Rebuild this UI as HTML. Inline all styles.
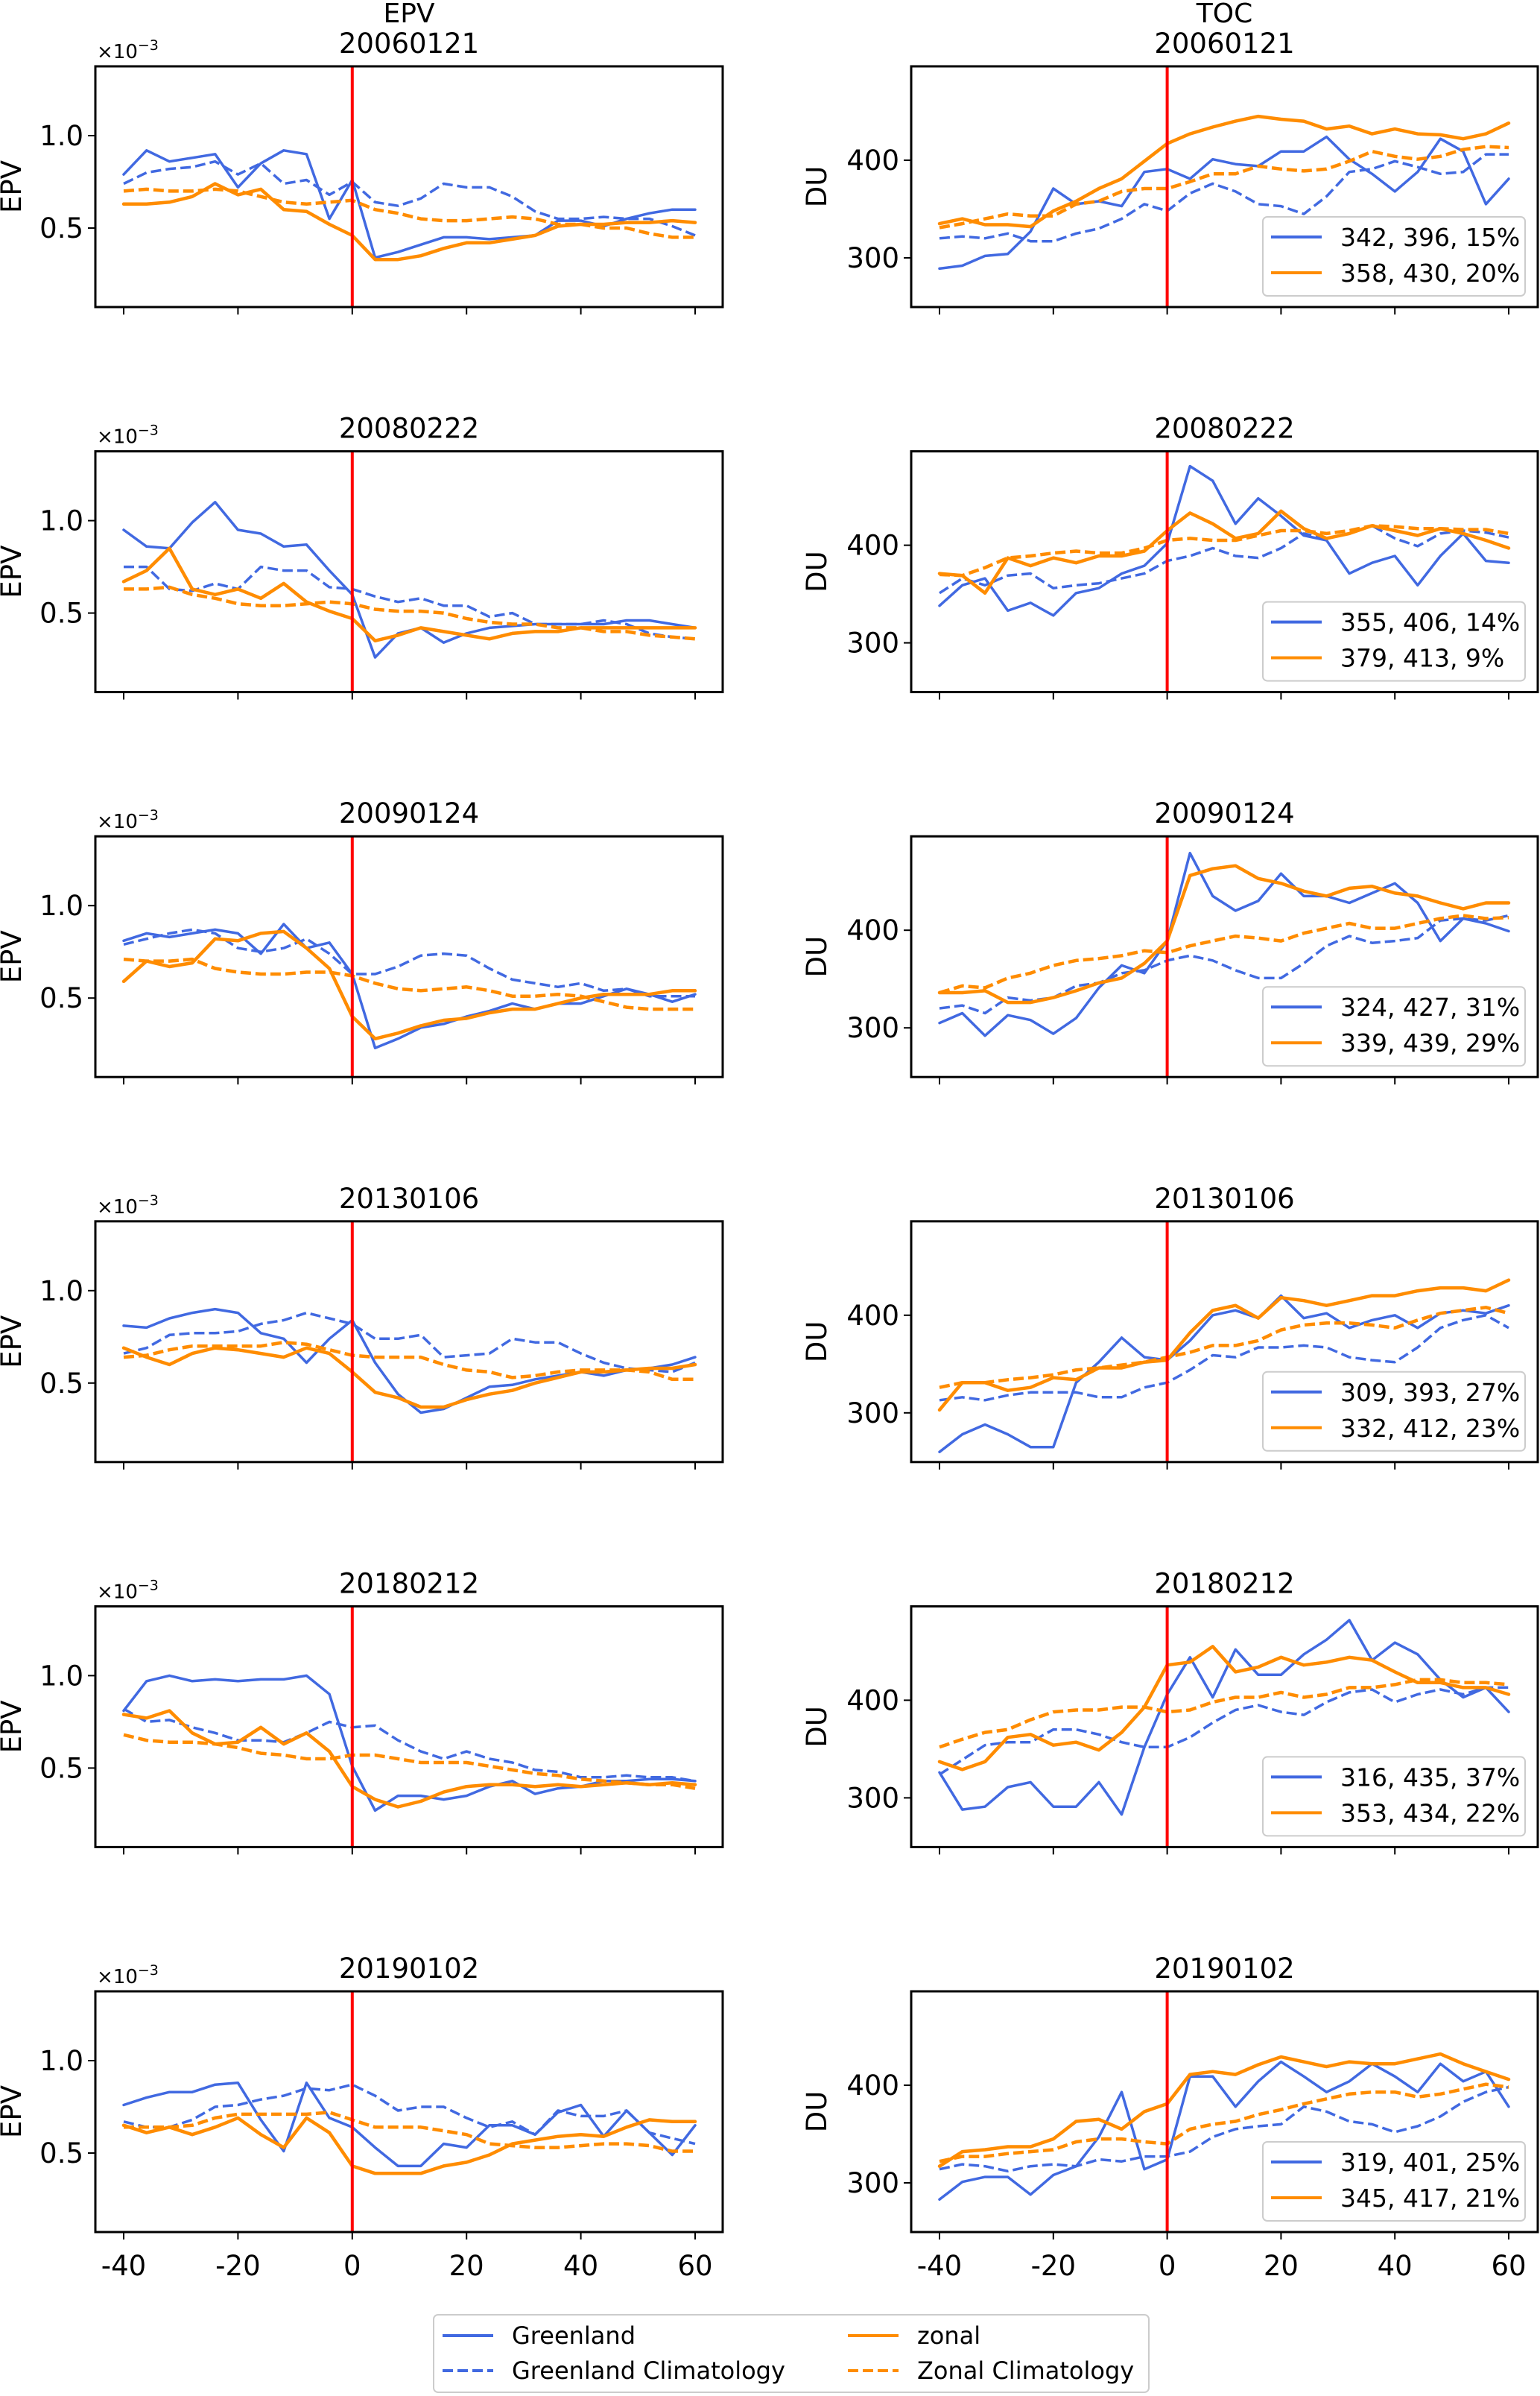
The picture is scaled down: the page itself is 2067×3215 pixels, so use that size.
<!DOCTYPE html>
<html><head><meta charset="utf-8">
<style>
html,body{margin:0;padding:0;background:#fff;}
svg{display:block;font-family:"DejaVu Sans","Liberation Sans",sans-serif;}
</style></head>
<body>
<svg id="chart" width="2067" height="3215" viewBox="0 0 2067 3215" xmlns="http://www.w3.org/2000/svg"></svg>
<script>
const days=[-40,-36,-32,-28,-24,-20,-16,-12,-8,-4,0,4,8,12,16,20,24,28,32,36,40,44,48,52,56,60];
const dates=["20060121","20080222","20090124","20130106","20180212","20190102"];
const legendG=["342, 396, 15%","355, 406, 14%","324, 427, 31%","309, 393, 27%","316, 435, 37%","319, 401, 25%"];
const legendZ=["358, 430, 20%","379, 413, 9%","339, 439, 29%","332, 412, 23%","353, 434, 22%","345, 417, 21%"];
const xTicks=[-40,-20,0,20,40,60];
const epvTicks=[0.5,1.0];
const tocTicks=[300,400];
// EPV (x1e-3)
const epvG=[
[.79,.92,.86,.88,.90,.72,.85,.92,.90,.55,.76,.34,.37,.41,.45,.45,.44,.45,.46,.54,.54,.51,.55,.58,.60,.60],
[.95,.86,.85,.99,1.10,.95,.93,.86,.87,.73,.60,.26,.39,.42,.34,.39,.42,.43,.44,.44,.44,.44,.46,.46,.44,.42],
[.81,.85,.83,.85,.87,.85,.74,.90,.77,.80,.63,.23,.28,.34,.36,.40,.43,.47,.44,.47,.47,.51,.55,.52,.48,.52],
[.81,.80,.85,.88,.90,.88,.77,.74,.61,.74,.84,.61,.44,.34,.36,.42,.48,.49,.52,.54,.56,.54,.57,.58,.60,.64],
[.81,.97,1.0,.97,.98,.97,.98,.98,1.0,.90,.51,.27,.35,.35,.33,.35,.40,.43,.36,.39,.40,.43,.43,.44,.44,.43],
[.76,.80,.83,.83,.87,.88,.68,.51,.88,.69,.64,.53,.43,.43,.55,.53,.65,.65,.60,.72,.76,.59,.73,.61,.49,.65]];
const epvGC=[
[.74,.80,.82,.83,.86,.79,.85,.74,.76,.68,.75,.64,.62,.66,.74,.72,.72,.67,.59,.55,.55,.56,.55,.55,.51,.46],
[.75,.75,.63,.62,.66,.63,.75,.73,.73,.64,.63,.59,.56,.58,.54,.54,.48,.50,.44,.44,.44,.46,.44,.39,.37,.36],
[.79,.82,.85,.87,.85,.77,.75,.77,.82,.74,.63,.63,.67,.73,.74,.73,.66,.60,.58,.56,.58,.54,.55,.51,.51,.51],
[.66,.69,.76,.77,.77,.78,.82,.84,.88,.85,.82,.74,.74,.76,.64,.65,.66,.74,.72,.72,.66,.61,.58,.57,.56,.61],
[.82,.75,.76,.72,.69,.65,.65,.64,.69,.75,.72,.73,.65,.59,.55,.59,.55,.53,.49,.48,.45,.45,.46,.45,.45,.43],
[.67,.64,.64,.68,.75,.76,.79,.81,.85,.84,.87,.81,.73,.75,.75,.69,.64,.67,.60,.73,.70,.70,.73,.61,.58,.55]];
const epvZ=[
[.63,.63,.64,.67,.74,.68,.71,.60,.59,.52,.46,.33,.33,.35,.39,.42,.42,.44,.46,.51,.52,.52,.53,.53,.54,.53],
[.67,.73,.85,.63,.60,.63,.58,.66,.56,.51,.47,.35,.38,.42,.40,.38,.36,.39,.40,.40,.42,.42,.42,.42,.42,.42],
[.59,.70,.67,.69,.82,.81,.85,.86,.77,.66,.40,.28,.31,.35,.38,.39,.42,.44,.44,.47,.50,.52,.52,.52,.54,.54],
[.69,.64,.60,.66,.69,.68,.66,.64,.69,.66,.56,.45,.42,.37,.37,.41,.44,.46,.50,.53,.56,.56,.57,.58,.58,.60],
[.79,.77,.81,.69,.63,.64,.72,.63,.69,.59,.40,.33,.29,.32,.37,.40,.41,.41,.40,.41,.40,.41,.42,.41,.42,.41],
[.65,.61,.64,.60,.64,.69,.60,.53,.69,.61,.43,.39,.39,.39,.43,.45,.49,.55,.57,.59,.60,.59,.64,.68,.67,.67]];
const epvZC=[
[.70,.71,.70,.70,.71,.70,.67,.64,.63,.64,.65,.60,.58,.55,.54,.54,.55,.56,.55,.52,.52,.50,.50,.47,.45,.45],
[.63,.63,.64,.60,.58,.55,.54,.54,.55,.56,.55,.52,.51,.51,.50,.47,.45,.44,.44,.42,.42,.40,.40,.38,.37,.36],
[.71,.70,.70,.71,.66,.64,.63,.63,.64,.64,.62,.58,.55,.54,.55,.56,.54,.51,.51,.52,.51,.48,.45,.44,.44,.44],
[.64,.65,.68,.70,.70,.70,.70,.72,.71,.68,.65,.64,.64,.64,.60,.57,.56,.53,.54,.56,.57,.57,.57,.56,.52,.52],
[.68,.65,.64,.64,.63,.61,.58,.57,.55,.55,.57,.57,.55,.53,.53,.53,.51,.49,.47,.46,.44,.43,.42,.41,.41,.39],
[.64,.64,.64,.65,.69,.71,.71,.71,.71,.72,.68,.64,.64,.64,.62,.60,.55,.54,.53,.53,.54,.55,.55,.54,.51,.51]];
// TOC (DU)
const tocG=[
[289,292,302,304,327,371,355,358,353,388,391,381,401,396,394,409,409,424,401,386,368,388,422,409,355,381],
[338,359,366,333,341,328,351,356,371,379,402,481,466,422,448,430,410,405,371,382,389,359,389,412,384,382],
[305,315,292,313,308,294,310,341,364,356,389,479,435,420,430,458,435,435,428,438,448,428,389,412,407,399],
[260,278,288,278,265,265,331,352,377,357,354,374,400,405,397,420,397,402,387,395,400,387,402,405,402,410],
[326,288,291,311,316,291,291,316,283,352,406,444,403,452,426,426,447,462,482,441,459,447,421,403,413,388],
[283,301,306,306,288,308,317,347,393,314,324,409,409,378,404,424,409,393,404,422,409,393,422,404,414,378]];
const tocGC=[
[320,322,320,325,317,317,325,330,340,355,348,366,376,368,355,353,345,363,388,391,399,393,386,388,406,406],
[351,366,359,369,371,356,359,361,366,371,384,389,397,389,387,397,412,407,412,420,407,399,412,415,413,408],
[320,323,315,331,328,331,343,346,356,359,369,374,369,359,351,351,366,384,394,387,389,392,410,412,410,415],
[313,316,313,318,321,321,321,316,316,326,331,344,359,357,367,367,369,367,357,354,352,367,387,395,400,387],
[324,339,354,357,357,370,370,365,357,352,352,362,377,390,395,388,385,398,408,411,398,406,411,406,413,413],
[314,319,317,312,317,319,317,324,322,327,327,332,347,355,358,360,378,373,363,360,352,358,368,383,393,398]];
const tocZ=[
[335,340,334,334,332,348,358,371,381,399,417,427,434,440,445,442,440,432,435,427,432,427,426,422,427,438],
[371,369,351,387,379,387,382,389,389,394,415,433,422,407,412,435,417,407,412,420,415,410,417,412,405,397],
[336,336,338,326,326,331,338,346,351,366,389,456,463,466,453,448,440,435,443,445,438,435,428,422,428,428],
[303,331,331,323,326,336,334,346,346,352,354,382,405,410,397,418,415,410,415,420,420,425,428,428,425,436],
[337,329,337,362,365,354,357,349,367,393,436,439,455,429,434,444,436,439,444,441,429,418,418,413,413,406],
[317,332,334,337,337,345,363,365,355,373,381,411,414,411,421,429,424,419,424,422,422,427,432,422,414,406]];
const tocZC=[
[331,335,340,345,343,343,355,358,368,371,371,378,386,386,394,391,389,391,399,409,404,401,404,411,414,413],
[370,369,377,387,389,392,394,392,392,397,405,407,405,405,410,415,415,412,415,420,419,417,417,416,416,412],
[336,343,341,351,356,364,369,371,374,379,377,384,389,394,392,389,397,402,407,402,402,407,412,415,412,413],
[326,331,331,334,336,339,344,346,349,352,357,362,369,369,374,385,390,392,392,390,387,395,402,405,408,402],
[352,360,367,370,380,388,390,390,393,393,388,390,398,403,403,408,403,406,413,413,416,421,421,418,418,416],
[322,327,327,330,332,334,342,345,345,342,340,355,360,363,370,375,381,386,391,393,393,388,391,396,401,398]];

const NS="http://www.w3.org/2000/svg";
const svg=document.getElementById('chart');
const BLUE="#4169E1", ORANGE="#FF8C00";
function mk(tag,attrs,parent){const e=document.createElementNS(NS,tag);for(const k in attrs)e.setAttribute(k,attrs[k]);(parent||svg).appendChild(e);return e;}
function txt(s,attrs,parent){const e=mk('text',attrs,parent);e.textContent=s;return e;}

const ROW0=89, ROWSTEP=516.6, AXH=323;
const P={epv:{l:128,r:970,x0:166,x1:933,v0:0.5,v1:1.0,o0:217,o1:93},
         toc:{l:1223,r:2064,x0:1261,x1:2025,v0:300,v1:400,o0:257,o1:126}};
function xScale(p,d){return p.x0+(d+40)*(p.x1-p.x0)/100;}
function yScale(p,T,v){return T+p.o0+(v-p.v0)*(p.o1-p.o0)/(p.v1-p.v0);}

function drawSeries(g,p,T,vals,color,dashed,w,name){
  const pts=vals.map((v,i)=>xScale(p,days[i]).toFixed(1)+','+yScale(p,T,v).toFixed(1)).join(' ');
  const pl=mk('polyline',{points:pts,fill:'none',stroke:color,'stroke-width':w,'stroke-linejoin':'round','stroke-linecap':dashed?'butt':'round'},g);
  if(dashed)pl.setAttribute('stroke-dasharray','14,6');
  
  
}

for(let r=0;r<6;r++){
  const T=ROW0+r*ROWSTEP;
  ['epv','toc'].forEach(kind=>{
    const p=P[kind];
    const g=mk('g',{});
    
    
    const cx=(p.l+p.r)/2;
    if(r===0){
      const t0=txt(kind==='epv'?'EPV':'TOC',{x:cx,y:30,'font-size':36,'text-anchor':'middle'},g);
      
      
    }
    const td=txt(dates[r],{x:cx,y:T-18,'font-size':37,'text-anchor':'middle'},g);
    
    
    const cid='clip'+kind+r;
    const cp=mk('clipPath',{id:cid},g);
    mk('rect',{x:p.l,y:T,width:p.r-p.l,height:AXH},cp);
    const lines=mk('g',{'clip-path':'url(#'+cid+')'},g);
    const G=kind==='epv'?epvG:tocG, GC=kind==='epv'?epvGC:tocGC, Z=kind==='epv'?epvZ:tocZ, ZC=kind==='epv'?epvZC:tocZC;
    drawSeries(lines,p,T,G[r],BLUE,false,3.5,'greenland-line');
    drawSeries(lines,p,T,GC[r],BLUE,true,3.5,'greenland-climatology-line');
    drawSeries(lines,p,T,Z[r],ORANGE,false,4.5,'zonal-line');
    drawSeries(lines,p,T,ZC[r],ORANGE,true,4.5,'zonal-climatology-line');
    const x0=xScale(p,0);
    const red=mk('line',{x1:x0,x2:x0,y1:T,y2:T+AXH,stroke:'#FF0000','stroke-width':4},g);
    
    
    const fr=mk('rect',{x:p.l,y:T,width:p.r-p.l,height:AXH,fill:'none',stroke:'#000','stroke-width':3},g);
    
    
    xTicks.forEach(d=>{
      const x=xScale(p,d);
      mk('line',{x1:x,x2:x,y1:T+AXH,y2:T+AXH+10,stroke:'#000','stroke-width':2},g);
      if(r===5){
        const tl=txt(String(d),{x:x,y:T+AXH+58,'font-size':37,'text-anchor':'middle'},g);
        
        
      }
    });
    const ticks=kind==='epv'?epvTicks:tocTicks;
    ticks.forEach(v=>{
      const y=yScale(p,T,v);
      mk('line',{x1:p.l-10,x2:p.l,y1:y,y2:y,stroke:'#000','stroke-width':2},g);
      const yl=txt(kind==='epv'?v.toFixed(1):String(v),{x:p.l-16,y:y+13,'font-size':37,'text-anchor':'end'},g);
      
      
    });
    const lx=kind==='epv'?28:1109, ly=T+AXH/2;
    const yt=txt(kind==='epv'?'EPV':'DU',{x:lx,y:ly,'font-size':37,'text-anchor':'middle',transform:'rotate(-90 '+lx+' '+ly+')'},g);
    
    
    if(kind==='epv'){
      const sc=mk('text',{x:130,y:T-11,'font-size':26},g);
      sc.textContent='×10';
      const sup=mk('tspan',{dy:-11,'font-size':19},sc);
      sup.textContent='−3';
      
      
    } else {
      const lg=mk('g',{},g);
      
      
      mk('rect',{x:1695,y:T+202,width:352,height:106,rx:6,fill:'#fff','fill-opacity':0.85,stroke:'#ccc','stroke-width':2},lg);
      mk('line',{x1:1706,x2:1774,y1:T+229,y2:T+229,stroke:BLUE,'stroke-width':4},lg);
      mk('line',{x1:1706,x2:1774,y1:T+277,y2:T+277,stroke:ORANGE,'stroke-width':4},lg);
      const a=txt(legendG[r],{x:1799,y:T+241,'font-size':33},lg);
      
      
      const b=txt(legendZ[r],{x:1799,y:T+289,'font-size':33},lg);
      
      
    }
  });
}
const L=mk('g',{});


mk('rect',{x:582,y:3106,width:960,height:104,rx:6,fill:'#fff',stroke:'#ccc','stroke-width':2},L);
const entries=[["Greenland",BLUE,false,594,3134],["Greenland Climatology",BLUE,true,594,3181],["zonal",ORANGE,false,1138,3134],["Zonal Climatology",ORANGE,true,1138,3181]];
entries.forEach(e=>{
  const ln=mk('line',{x1:e[3],x2:e[3]+68,y1:e[4],y2:e[4],stroke:e[1],'stroke-width':4},L);
  if(e[2])ln.setAttribute('stroke-dasharray','14,6');
  const t=txt(e[0],{x:e[3]+93,y:e[4]+11,'font-size':32},L);
  
  
});
</script>
</body></html>
